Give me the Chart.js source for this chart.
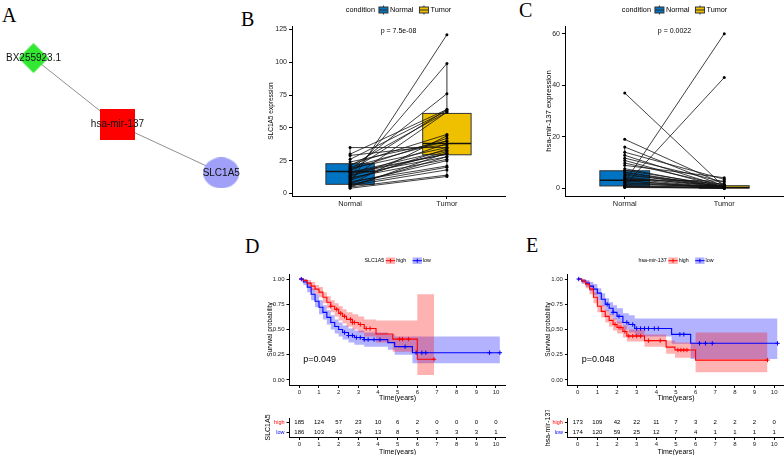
<!DOCTYPE html>
<html>
<head>
<meta charset="utf-8">
<script src="https://cdn.jsdelivr.net/npm/chart.js@4.4.1/dist/chart.umd.min.js"></script>
<style>
  html, body { margin: 0; padding: 0; background: #fff; overflow: hidden; }
  #fig { position: relative; width: 784px; height: 455px; overflow: hidden; background: #fff; }
  #fig canvas { position: absolute; }
  .tag { position: absolute; font: 20px "Liberation Serif", "Times New Roman", serif; line-height: 20px; color: #000; }
</style>
</head>
<body>
<div id="fig">
  <div class="tag" style="left:2px;top:5px">A</div>
  <div class="tag" style="left:241px;top:9px">B</div>
  <div class="tag" style="left:519px;top:0px">C</div>
  <div class="tag" style="left:245px;top:236px">D</div>
  <div class="tag" style="left:526px;top:235px">E</div>
</div>
<script>
// ---------- data ----------
// A: network (layout units 0..1)
const nodeNames = ["BX255923.1", "hsa-mir-137", "SLC1A5"];
const nodeX = [0.134, 0.47, 0.885];
const nodeY = [0.27, 0.58, 0.804];
const edgeFrom = [0, 1];
const edgeTo = [1, 2];

const groups = ["Normal", "Tumor"];

// B: SLC1A5 paired expression
const slcNormal = [35, 30, 29, 26, 22, 21, 20, 19, 18, 18, 17, 16, 16, 15, 14, 13, 13, 12, 11, 11, 10, 9, 8, 8, 7, 7, 6, 6, 5, 5, 4, 24];
const slcTumor  = [35, 64, 37, 63, 45, 62, 40, 35, 76, 42, 64, 33, 30, 30, 28, 38, 99, 26, 62, 32, 34, 21, 121, 25, 44, 20, 18, 28, 14, 31, 13, 40];
const slcLow  = [4, 13];
const slcQ1   = [7, 29.5];
const slcMed  = [16.7, 38];
const slcQ3   = [22.7, 61];
const slcHigh = [35, 99];

// C: hsa-mir-137 paired expression
const mirNormal = [37, 19, 16, 14, 12.8, 11.7, 10.8, 9.8, 8.9, 7.6, 6.3, 5, 3.7, 2.4, 1.2, 2, 3, 4.5, 1.5, 0.8, 0.5, 6, 4, 3.3, 2.8, 1, 0.6, 7, 5.5, 0.3, 2.2];
const mirTumor  = [0.6, 1.5, 0.8, 3.5, 0.4, 2.4, 0.2, 1.2, 4.1, 0.3, 0.5, 1.6, 0.2, 60, 43, 0.1, 0.2, 0.3, 0.7, 0.1, 0.05, 0.4, 1, 2.8, 0.1, 0.3, 0.2, 0.9, 0.2, 0.05, 0.5];
const mirLow  = [0, 0];
const mirQ1   = [0.9, 0.05];
const mirMed  = [3.1, 0.3];
const mirQ3   = [6.8, 1.0];
const mirHigh = [16, 2.4];

const timeTicks = [0, 1, 2, 3, 4, 5, 6, 7, 8, 9, 10];
const survTicks = [0, 0.25, 0.5, 0.75, 1];

// D: SLC1A5 survival
const dHighT  = [0, 0.2, 0.4, 0.6, 0.8, 1.0, 1.2, 1.4, 1.6, 1.8, 2.0, 2.2, 2.4, 2.7, 3.0, 3.3, 3.9, 4.75, 6.0, 6.85];
const dHighS  = [1, 0.985, 0.96, 0.93, 0.90, 0.87, 0.82, 0.77, 0.73, 0.70, 0.66, 0.63, 0.60, 0.57, 0.55, 0.51, 0.455, 0.405, 0.205, 0.205];
const dHighUp = [1, 1, 0.99, 0.97, 0.94, 0.92, 0.87, 0.83, 0.79, 0.76, 0.73, 0.70, 0.67, 0.65, 0.63, 0.60, 0.59, 0.59, 0.85, 0.85];
const dHighLo = [1, 0.97, 0.93, 0.89, 0.85, 0.82, 0.76, 0.71, 0.67, 0.63, 0.59, 0.56, 0.53, 0.50, 0.47, 0.43, 0.37, 0.28, 0.05, 0.05];
const dHighCens = [1.6, 1.9, 2.1, 2.3, 2.6, 2.7, 2.8, 3.1, 3.4, 3.6, 5.1, 5.25, 5.55, 6.85];
const dLowT  = [0, 0.2, 0.4, 0.6, 0.8, 1.0, 1.2, 1.4, 1.6, 1.8, 2.0, 2.2, 2.5, 2.8, 3.3, 4.5, 4.85, 5.75, 10.2];
const dLowS  = [1, 0.97, 0.92, 0.85, 0.78, 0.72, 0.67, 0.62, 0.57, 0.53, 0.50, 0.47, 0.44, 0.42, 0.40, 0.37, 0.33, 0.27, 0.27];
const dLowUp = [1, 1, 0.97, 0.91, 0.85, 0.79, 0.74, 0.69, 0.64, 0.60, 0.57, 0.54, 0.51, 0.49, 0.47, 0.45, 0.43, 0.43, 0.43];
const dLowLo = [1, 0.94, 0.87, 0.79, 0.72, 0.65, 0.60, 0.55, 0.50, 0.46, 0.43, 0.40, 0.37, 0.35, 0.33, 0.30, 0.25, 0.165, 0.165];
const dLowCens = [0.1, 2.3, 2.5, 2.7, 2.9, 3.1, 3.3, 3.5, 3.8, 4.1, 5.38, 5.94, 6.23, 6.43, 9.67, 10.2];

// E: hsa-mir-137 survival
const eHighT  = [0, 0.2, 0.4, 0.6, 0.8, 1.0, 1.2, 1.4, 1.6, 1.8, 2.0, 2.3, 2.5, 3.4, 4.5, 4.95, 6.0, 9.66];
const eHighS  = [1, 0.98, 0.95, 0.90, 0.82, 0.73, 0.68, 0.63, 0.59, 0.55, 0.52, 0.48, 0.435, 0.39, 0.325, 0.297, 0.197, 0.197];
const eHighUp = [1, 1, 0.98, 0.94, 0.87, 0.79, 0.74, 0.69, 0.65, 0.61, 0.58, 0.54, 0.50, 0.45, 0.39, 0.37, 0.47, 0.47];
const eHighLo = [1, 0.96, 0.91, 0.85, 0.76, 0.67, 0.62, 0.57, 0.53, 0.49, 0.46, 0.42, 0.38, 0.33, 0.26, 0.22, 0.076, 0.076];
const eHighCens = [1.9, 2.1, 2.2, 2.4, 2.6, 2.8, 3.0, 3.2, 3.6, 4.2, 5.1, 5.25, 5.4, 5.56, 9.66];
const eLowT  = [0, 0.2, 0.4, 0.6, 0.8, 1.0, 1.2, 1.4, 1.6, 1.8, 2.0, 2.3, 2.6, 2.9, 4.78, 5.75, 10.17];
const eLowS  = [1, 0.98, 0.96, 0.93, 0.90, 0.86, 0.80, 0.75, 0.71, 0.67, 0.63, 0.57, 0.55, 0.51, 0.452, 0.363, 0.363];
const eLowUp = [1, 1, 0.99, 0.97, 0.95, 0.91, 0.86, 0.81, 0.77, 0.74, 0.71, 0.66, 0.64, 0.61, 0.61, 0.61, 0.61];
const eLowLo = [1, 0.95, 0.92, 0.88, 0.84, 0.79, 0.73, 0.68, 0.64, 0.60, 0.56, 0.50, 0.47, 0.43, 0.36, 0.208, 0.208];
const eLowCens = [0.05, 1.5, 1.8, 2.1, 2.5, 2.8, 3.0, 3.2, 3.4, 3.6, 3.9, 4.1, 5.2, 5.4, 6.2, 6.5, 6.85, 10.17];

// risk tables
const riskRows = ["high", "low"];
const slcRiskHigh = [185, 124, 57, 23, 10, 6, 2, 0, 0, 0, 0];
const slcRiskLow  = [186, 103, 43, 24, 13, 8, 5, 3, 3, 3, 1];
const mirRiskHigh = [173, 109, 42, 22, 11, 7, 3, 2, 2, 2, 0];
const mirRiskLow  = [174, 120, 59, 25, 12, 7, 4, 1, 1, 1, 1];

// ---------- helpers ----------
const SANS = '"Liberation Sans", Arial, sans-serif';
Chart.defaults.font.family = SANS;
Chart.defaults.color = "#000";

const boxColors = ["#0073C2", "#EFC000"];
const kmColors = ["#FF0000", "#0000FF"];
const kmFills = ["rgba(255,0,0,0.3)", "rgba(0,0,255,0.3)"];

const base = {
  responsive: false,
  animation: false,
  devicePixelRatio: 1,
  events: [],
  plugins: { legend: { display: false }, tooltip: { enabled: false } }
};

function pad(top, right) {
  return { autoPadding: false, padding: { left: 0, top, right, bottom: 0 } };
}

function addCanvas(left, top, w, h) {
  const c = document.createElement("canvas");
  c.width = w; c.height = h;
  c.style.left = left + "px"; c.style.top = top + "px";
  c.style.width = w + "px"; c.style.height = h + "px";
  document.getElementById("fig").appendChild(c);
  return c;
}

const fixTicks = vals => s => { s.ticks = vals.map(v => ({ value: v })); };
const fixWidth = w => s => { s.width = w; };
const fixHeight = h => s => { s.height = h; };

const axisGrid = { drawOnChartArea: false, tickLength: 3, tickColor: "#000", tickWidth: 1 };
const axisBorder = { color: "#000", width: 1 };

function yAxis(o) {
  return {
    type: "linear", min: o.min, max: o.max,
    afterBuildTicks: fixTicks(o.ticks), afterFit: fixWidth(o.width),
    ticks: { callback: o.fmt || (v => v), font: { size: o.tickSize }, color: "#222", padding: 2, autoSkip: false },
    grid: axisGrid, border: axisBorder,
    title: { display: true, text: o.title, font: { size: o.titleSize }, color: "#000", padding: { top: o.titlePad, bottom: 0 } }
  };
}

// ---------- A: network ----------
function shapeCanvas(kind, w, h, color) {
  const c = document.createElement("canvas");
  c.width = w; c.height = h;
  const g = c.getContext("2d");
  g.fillStyle = color;
  g.beginPath();
  if (kind === "diamond") {
    g.moveTo(w / 2, 0); g.lineTo(w, h / 2); g.lineTo(w / 2, h); g.lineTo(0, h / 2); g.closePath();
  } else if (kind === "rect") {
    g.rect(0, 0, w, h);
  } else {
    g.ellipse(w / 2, h / 2, w / 2, h / 2, 0, 0, Math.PI * 2);
  }
  g.fill();
  return c;
}

const nodeStyles = [
  shapeCanvas("diamond", 30, 30, "#33E833"),
  shapeCanvas("rect", 35, 31, "#FF0000"),
  shapeCanvas("ellipse", 36, 31, "#A0A0F8")
];

new Chart(addCanvas(0, 0, 250, 215), {
  type: "line",
  data: {
    datasets: [
      {
        data: nodeX.map((x, i) => ({ x, y: nodeY[i] })),
        showLine: false, pointStyle: nodeStyles, pointRadius: 15, order: 0
      },
      ...edgeFrom.map((a, i) => ({
        data: [{ x: nodeX[a], y: nodeY[a] }, { x: nodeX[edgeTo[i]], y: nodeY[edgeTo[i]] }],
        borderColor: "#8f8f8f", borderWidth: 1, pointRadius: 0, order: 1
      }))
    ]
  },
  options: {
    ...base,
    layout: pad(0, 0),
    scales: {
      x: { type: "linear", min: 0, max: 1, display: false },
      y: { type: "linear", min: 0, max: 1, reverse: true, display: false }
    }
  },
  plugins: [{
    id: "nodeLabels",
    afterDatasetsDraw(chart) {
      const { ctx } = chart;
      const meta = chart.getDatasetMeta(0);
      ctx.save();
      ctx.font = "10px " + SANS;
      ctx.fillStyle = "#111";
      ctx.textAlign = "center";
      ctx.textBaseline = "middle";
      meta.data.forEach((pt, i) => ctx.fillText(nodeNames[i], pt.x, pt.y));
      ctx.restore();
    }
  }]
});

// ---------- B / C: paired box plots ----------
function boxPlugin(st) {
  return {
    id: "boxes",
    beforeDatasetsDraw(chart) {
      const { ctx, scales: { x, y } } = chart;
      const half = (x.getPixelForValue(1.25) - x.getPixelForValue(0.75)) / 2;
      st.med.forEach((m, i) => {
        const cx = x.getPixelForValue(i + 1);
        const top = y.getPixelForValue(st.q3[i]);
        const bot = y.getPixelForValue(st.q1[i]);
        ctx.save();
        ctx.strokeStyle = "#333";
        ctx.lineWidth = 1;
        ctx.beginPath();
        ctx.moveTo(cx, y.getPixelForValue(st.lo[i]));
        ctx.lineTo(cx, y.getPixelForValue(st.hi[i]));
        ctx.stroke();
        ctx.fillStyle = boxColors[i];
        ctx.fillRect(cx - half, top, 2 * half, bot - top);
        ctx.strokeRect(cx - half, top, 2 * half, bot - top);
        ctx.strokeStyle = "#111";
        ctx.lineWidth = 1.5;
        const my = y.getPixelForValue(m);
        ctx.beginPath();
        ctx.moveTo(cx - half, my);
        ctx.lineTo(cx + half, my);
        ctx.stroke();
        ctx.restore();
      });
    }
  };
}

const conditionLegend = {
  id: "condLegend",
  afterDraw(chart) {
    const { ctx, chartArea } = chart;
    ctx.save();
    ctx.font = "7.3px " + SANS;
    ctx.fillStyle = "#000";
    ctx.textBaseline = "middle";
    const gw = 9, gh = 6, y = 10;
    const wt = ctx.measureText("condition").width;
    const ws = groups.map(g => ctx.measureText(g).width);
    const total = wt + 4 + (gw + 2) * 2 + ws[0] + 6 + ws[1];
    let x = (chartArea.left + chartArea.right) / 2 - total / 2;
    ctx.fillText("condition", x, y);
    x += wt + 4;
    groups.forEach((g, i) => {
      ctx.strokeStyle = "#333";
      ctx.lineWidth = 1;
      ctx.beginPath();
      ctx.moveTo(x + gw / 2, y - gh / 2 - 1.5);
      ctx.lineTo(x + gw / 2, y + gh / 2 + 1.5);
      ctx.stroke();
      ctx.fillStyle = boxColors[i];
      ctx.fillRect(x, y - gh / 2, gw, gh);
      ctx.strokeRect(x, y - gh / 2, gw, gh);
      ctx.beginPath();
      ctx.moveTo(x, y);
      ctx.lineTo(x + gw, y);
      ctx.stroke();
      ctx.fillStyle = "#000";
      x += gw + 2;
      ctx.fillText(g, x, y);
      x += ws[i] + 6;
    });
    ctx.restore();
  }
};

function pairChart(canvas, o) {
  const datasets = o.normal.map((v, i) => ({
    data: [{ x: 1, y: v }, { x: 2, y: o.tumor[i] }],
    borderColor: "#111", borderWidth: 0.8,
    pointRadius: 1.5, pointBackgroundColor: "#000", pointBorderWidth: 0
  }));
  return new Chart(canvas, {
    type: "line",
    data: { datasets },
    options: {
      ...base,
      layout: pad(26, o.padRight),
      scales: {
        x: {
          type: "linear", min: 0.4, max: 2.6,
          afterBuildTicks: fixTicks([1, 2]), afterFit: fixHeight(19),
          ticks: { callback: v => groups[v - 1], font: { size: 7.4 }, color: "#222", padding: 1, autoSkip: false, maxRotation: 0 },
          grid: axisGrid, border: axisBorder
        },
        y: yAxis(o.y)
      }
    },
    plugins: [boxPlugin(o.box), conditionLegend, {
      id: "pval",
      afterDraw(chart) {
        const { ctx, chartArea, scales: { x } } = chart;
        ctx.save();
        ctx.font = "7px " + SANS;
        ctx.fillStyle = "#000";
        ctx.textAlign = "center";
        ctx.textBaseline = "middle";
        ctx.fillText(o.p, x.getPixelForValue(1.5), chartArea.top + 5);
        ctx.restore();
      }
    }]
  });
}

pairChart(addCanvas(200, 0, 320, 215), {
  normal: slcNormal, tumor: slcTumor, padRight: 15, p: "p = 7.5e-08",
  box: { lo: slcLow, q1: slcQ1, med: slcMed, q3: slcQ3, hi: slcHigh },
  y: { min: -1.9, max: 127.6, ticks: [0, 25, 50, 75, 100, 125], width: 92, tickSize: 7,
       title: "SLC1A5 expression", titleSize: 6.5, titlePad: 67.1 }
});

pairChart(addCanvas(520, 0, 264, 215), {
  normal: mirNormal, tumor: mirTumor, padRight: 0, p: "p = 0.0022",
  box: { lo: mirLow, q1: mirQ1, med: mirMed, q3: mirQ3, hi: mirHigh },
  y: { min: -3, max: 63, ticks: [0, 20, 40, 60], width: 45, tickSize: 7,
       title: "hsa-mir-137 expression", titleSize: 7.8, titlePad: 24.3 }
});

// ---------- D / E: Kaplan-Meier ----------
function stepAt(ts, vs, t) {
  let v = vs[0];
  ts.forEach((tt, i) => { if (tt <= t) v = vs[i]; });
  return v;
}

function kmLegend(title) {
  return {
    id: "kmLegend",
    afterDraw(chart) {
      const { ctx, chartArea } = chart;
      ctx.save();
      ctx.font = "5.3px " + SANS;
      ctx.textBaseline = "middle";
      const gw = 9.3, gh = 6.5, y = 10.7;
      const wt = ctx.measureText(title).width;
      const ws = riskRows.map(r => ctx.measureText(r).width);
      const total = wt + 1.7 + (gw + 1) * 2 + ws[0] + 6.5 + ws[1];
      let x = (chartArea.left + chartArea.right) / 2 - total / 2;
      ctx.fillStyle = "#000";
      ctx.fillText(title, x, y);
      x += wt + 1.7;
      riskRows.forEach((r, i) => {
        ctx.fillStyle = kmFills[i];
        ctx.fillRect(x, y - gh / 2, gw, gh);
        ctx.strokeStyle = kmColors[i];
        ctx.lineWidth = 1;
        ctx.beginPath();
        ctx.moveTo(x, y); ctx.lineTo(x + gw, y);
        ctx.moveTo(x + gw / 2, y - 2); ctx.lineTo(x + gw / 2, y + 2);
        ctx.stroke();
        x += gw + 1;
        ctx.fillStyle = "#000";
        ctx.fillText(r, x, y);
        x += ws[i] + 6.5;
      });
      ctx.restore();
    }
  };
}

function kmChart(canvas, o) {
  const toPts = (ts, vs) => ts.map((t, i) => ({ x: t, y: vs[i] }));
  const curves = [o.high, o.low];
  const datasets = [];
  curves.forEach((c, k) => {
    datasets.push({ data: toPts(c.t, c.up), stepped: true, borderColor: "rgba(0,0,0,0)", borderWidth: 0, pointRadius: 0, fill: false, order: 3 });
    datasets.push({ data: toPts(c.t, c.lo), stepped: true, borderColor: "rgba(0,0,0,0)", borderWidth: 0, pointRadius: 0, fill: "-1", backgroundColor: kmFills[k], order: 3 });
  });
  curves.forEach((c, k) => datasets.push({
    data: toPts(c.t, c.s), stepped: true, borderColor: kmColors[k], borderWidth: 1.1, pointRadius: 0, fill: false, order: 2
  }));
  curves.forEach((c, k) => datasets.push({
    data: c.cens.map(t => ({ x: t, y: stepAt(c.t, c.s, t) })),
    showLine: false, pointStyle: "cross", pointRadius: 2.2, borderColor: kmColors[k], borderWidth: 1, order: 1
  }));
  return new Chart(canvas, {
    type: "line",
    data: { datasets },
    options: {
      ...base,
      layout: pad(24, o.padRight),
      scales: {
        x: {
          type: "linear", min: -0.5, max: 10.5,
          afterBuildTicks: fixTicks(timeTicks), afterFit: fixHeight(25),
          ticks: { font: { size: 6 }, color: "#222", padding: 1, autoSkip: false, maxRotation: 0 },
          grid: axisGrid, border: axisBorder,
          title: { display: true, text: "Time(years)", font: { size: 7 }, color: "#000", padding: { top: 0, bottom: 7.5 } }
        },
        y: yAxis({
          min: -0.05, max: 1.05, ticks: survTicks, width: o.yw, tickSize: 6, fmt: v => v.toFixed(2),
          title: "Survival probability", titleSize: 6.5, titlePad: o.titlePad
        })
      }
    },
    plugins: [kmLegend(o.legend), {
      id: "kmP",
      afterDraw(chart) {
        const { ctx, scales: { x, y } } = chart;
        ctx.save();
        ctx.font = "9px " + SANS;
        ctx.fillStyle = "#000";
        ctx.textBaseline = "middle";
        ctx.fillText(o.p, x.getPixelForValue(0.2), y.getPixelForValue(0.205));
        ctx.restore();
      }
    }]
  });
}

function riskChart(canvas, o) {
  return new Chart(canvas, {
    type: "line",
    data: { datasets: [] },
    options: {
      ...base,
      layout: pad(8, o.padRight),
      scales: {
        x: {
          type: "linear", min: -0.5, max: 10.5,
          afterBuildTicks: fixTicks(timeTicks), afterFit: fixHeight(28),
          ticks: { font: { size: 6 }, color: "#222", padding: 1, autoSkip: false, maxRotation: 0 },
          grid: axisGrid, border: axisBorder,
          title: { display: true, text: "Time(years)", font: { size: 7 }, color: "#000", padding: { top: 0, bottom: 8.8 } }
        },
        y: {
          type: "category", labels: riskRows, offset: true, afterFit: fixWidth(o.yw),
          ticks: { font: { size: 5.5 }, color: c => kmColors[c.index], padding: 2, autoSkip: false },
          grid: { ...axisGrid, offset: false }, border: axisBorder,
          title: { display: true, text: o.title, font: { size: 7 }, color: "#000", padding: { top: o.titlePad, bottom: 0 } }
        }
      }
    },
    plugins: [{
      id: "riskNums",
      afterDraw(chart) {
        const { ctx, scales: { x, y } } = chart;
        ctx.save();
        ctx.font = "6px " + SANS;
        ctx.fillStyle = "#000";
        ctx.textAlign = "center";
        ctx.textBaseline = "middle";
        [o.high, o.low].forEach((row, r) => {
          row.forEach((n, i) => ctx.fillText(String(n), x.getPixelForValue(timeTicks[i]), y.getPixelForValue(r)));
        });
        ctx.restore();
      }
    }]
  });
}

kmChart(addCanvas(240, 250, 275, 160), {
  yw: 49.5, padRight: 9.2, titlePad: 26.5, legend: "SLC1A5", p: "p=0.049",
  high: { t: dHighT, s: dHighS, up: dHighUp, lo: dHighLo, cens: dHighCens },
  low: { t: dLowT, s: dLowS, up: dLowUp, lo: dLowLo, cens: dLowCens }
});

kmChart(addCanvas(515, 250, 269, 160), {
  yw: 52.9, padRight: 0, titlePad: 29.5, legend: "hsa-mir-137", p: "p=0.048",
  high: { t: eHighT, s: eHighS, up: eHighUp, lo: eHighLo, cens: eHighCens },
  low: { t: eLowT, s: eLowS, up: eLowUp, lo: eLowLo, cens: eLowCens }
});

riskChart(addCanvas(240, 410, 275, 55), {
  yw: 49.5, padRight: 9.2, titlePad: 24, title: "SLC1A5", high: slcRiskHigh, low: slcRiskLow
});

riskChart(addCanvas(515, 410, 269, 55), {
  yw: 52.9, padRight: 0, titlePad: 29, title: "hsa-mir-137", high: mirRiskHigh, low: mirRiskLow
});
</script>
</body>
</html>
